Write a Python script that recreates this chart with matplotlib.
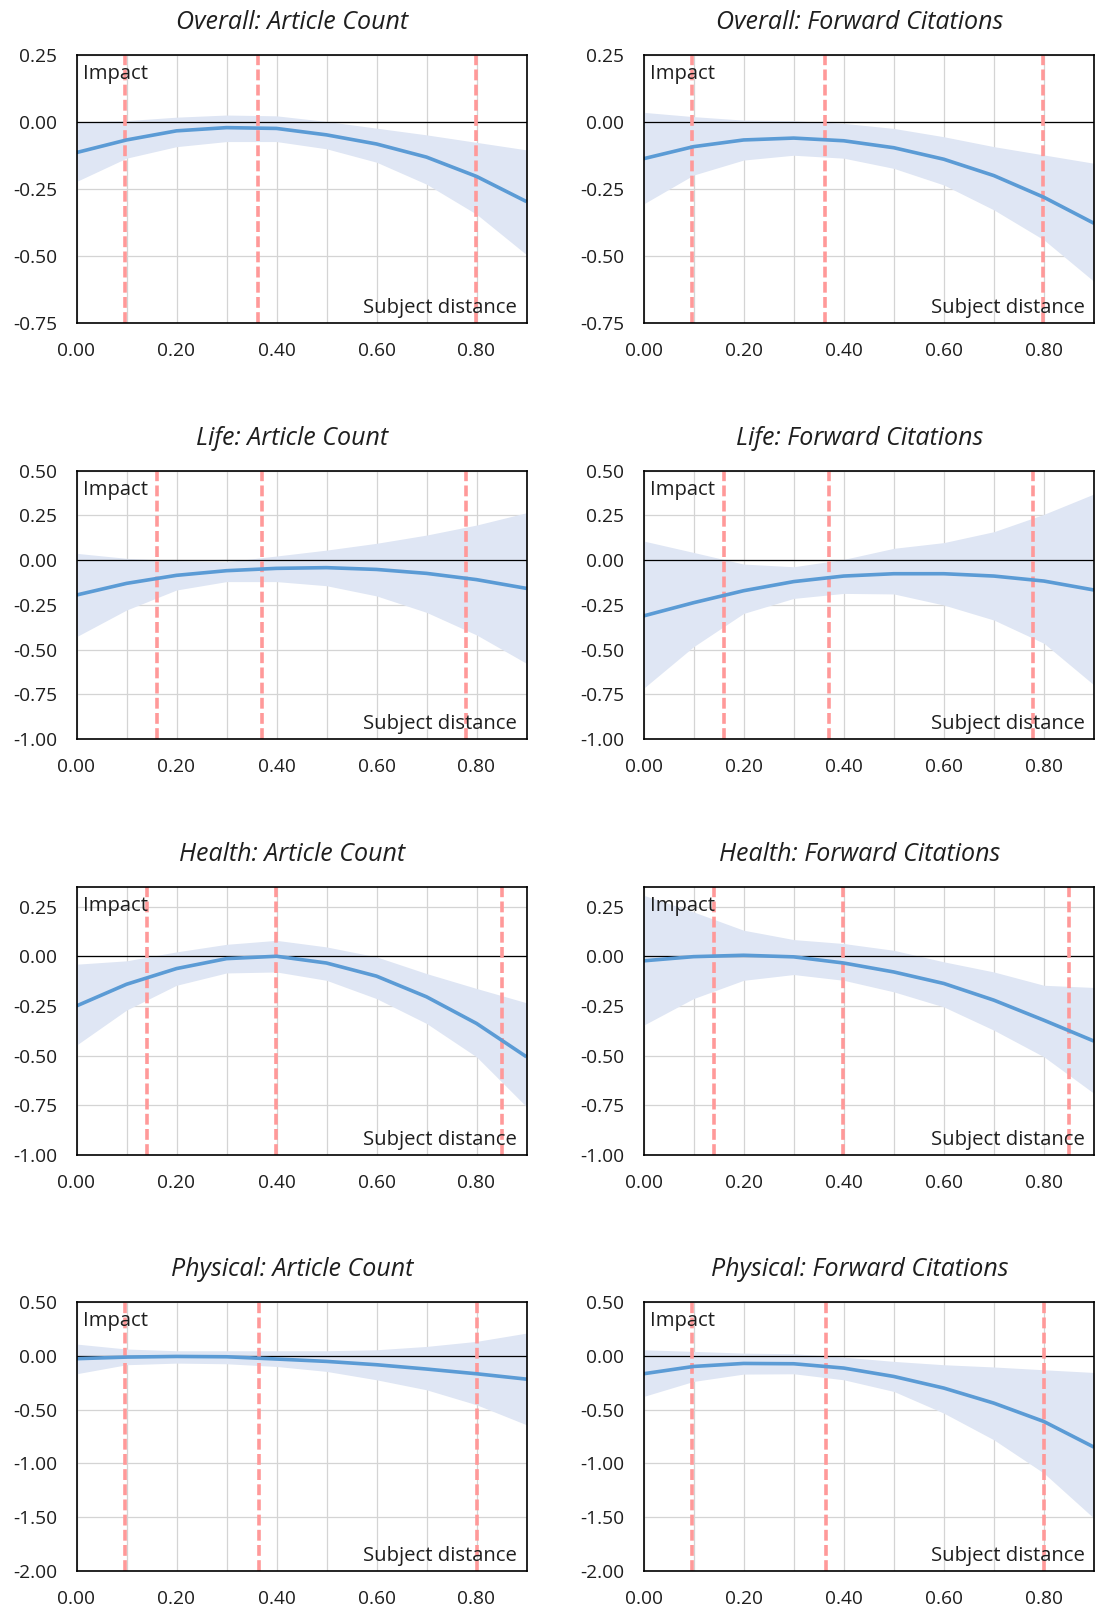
import numpy as np
import matplotlib.pyplot as plt
from matplotlib.ticker import MultipleLocator, FormatStrFormatter

plt.rcParams['font.family'] = ['Open Sans', 'DejaVu Sans']
plt.rcParams['axes.unicode_minus'] = False

TEXT = '#1e1e1e'
LINE = '#5b9bd5'
BAND = '#dfe6f4'
CUT = '#ff9999'
GRID = '#d4d4d4'

# subject distance grid the curves were read at
DIST = [0.0, 0.1, 0.2, 0.3, 0.4, 0.5, 0.6, 0.7, 0.8, 0.9]

# Overall: Article Count
overall_ac_fit = [-0.114, -0.067, -0.033, -0.021, -0.024, -0.048, -0.082, -0.131, -0.203, -0.297]
overall_ac_hi = [0.000, 0.005, 0.018, 0.026, 0.023, 0.002, -0.023, -0.048, -0.076, -0.104]
overall_ac_lo = [-0.222, -0.135, -0.092, -0.073, -0.073, -0.100, -0.150, -0.232, -0.344, -0.495]
# Overall: Forward Citations
overall_fc_fit = [-0.137, -0.092, -0.067, -0.060, -0.070, -0.096, -0.139, -0.200, -0.281, -0.378]
overall_fc_hi = [0.036, 0.020, 0.007, 0.005, -0.005, -0.024, -0.055, -0.092, -0.123, -0.154]
overall_fc_lo = [-0.306, -0.198, -0.142, -0.124, -0.135, -0.173, -0.235, -0.328, -0.440, -0.595]
# Life: Article Count
life_ac_fit = [-0.195, -0.130, -0.085, -0.059, -0.046, -0.042, -0.052, -0.074, -0.109, -0.158]
life_ac_hi = [0.038, 0.010, -0.003, -0.009, 0.023, 0.056, 0.094, 0.140, 0.196, 0.265]
life_ac_lo = [-0.428, -0.279, -0.167, -0.120, -0.120, -0.143, -0.200, -0.292, -0.418, -0.577]
# Life: Forward Citations
life_fc_fit = [-0.312, -0.238, -0.171, -0.120, -0.089, -0.076, -0.076, -0.089, -0.117, -0.167]
life_fc_hi = [0.107, 0.043, -0.022, -0.037, 0.004, 0.066, 0.098, 0.159, 0.256, 0.370]
life_fc_lo = [-0.717, -0.484, -0.298, -0.214, -0.186, -0.189, -0.251, -0.335, -0.465, -0.698]
# Health: Article Count
health_ac_fit = [-0.250, -0.141, -0.062, -0.012, 0.000, -0.034, -0.100, -0.204, -0.338, -0.506]
health_ac_hi = [-0.040, -0.023, 0.022, 0.060, 0.080, 0.047, -0.003, -0.087, -0.162, -0.234]
health_ac_lo = [-0.447, -0.271, -0.146, -0.084, -0.079, -0.121, -0.213, -0.338, -0.506, -0.757]
# Health: Forward Citations
health_fc_fit = [-0.023, -0.002, 0.005, -0.003, -0.034, -0.079, -0.137, -0.221, -0.322, -0.427]
health_fc_hi = [0.307, 0.223, 0.131, 0.084, 0.064, 0.030, -0.028, -0.079, -0.146, -0.157]
health_fc_lo = [-0.347, -0.213, -0.121, -0.092, -0.121, -0.179, -0.255, -0.372, -0.506, -0.690]
# Physical: Article Count
physical_ac_fit = [-0.027, -0.012, -0.006, -0.009, -0.030, -0.052, -0.083, -0.123, -0.167, -0.217]
physical_ac_hi = [0.109, 0.063, 0.047, 0.047, 0.047, 0.047, 0.056, 0.087, 0.134, 0.211]
physical_ac_lo = [-0.167, -0.083, -0.068, -0.074, -0.099, -0.145, -0.223, -0.316, -0.455, -0.641]
# Physical: Forward Citations
physical_fc_fit = [-0.167, -0.099, -0.071, -0.074, -0.114, -0.192, -0.300, -0.440, -0.611, -0.849]
physical_fc_hi = [0.056, 0.041, 0.025, 0.019, -0.012, -0.052, -0.083, -0.104, -0.130, -0.155]
physical_fc_lo = [-0.378, -0.238, -0.170, -0.167, -0.223, -0.331, -0.533, -0.781, -1.091, -1.510]

# cut-off distances (dashed lines) per field
overall_cuts = [0.096, 0.363, 0.799]
life_cuts = [0.161, 0.370, 0.778]
health_cuts = [0.140, 0.398, 0.850]
physical_cuts = [0.097, 0.364, 0.800]

titles = [
    "Overall: Article Count", "Overall: Forward Citations",
    "Life: Article Count", "Life: Forward Citations",
    "Health: Article Count", "Health: Forward Citations",
    "Physical: Article Count", "Physical: Forward Citations",
]
fits = [overall_ac_fit, overall_fc_fit, life_ac_fit, life_fc_fit,
        health_ac_fit, health_fc_fit, physical_ac_fit, physical_fc_fit]
his = [overall_ac_hi, overall_fc_hi, life_ac_hi, life_fc_hi,
       health_ac_hi, health_fc_hi, physical_ac_hi, physical_fc_hi]
los = [overall_ac_lo, overall_fc_lo, life_ac_lo, life_fc_lo,
       health_ac_lo, health_fc_lo, physical_ac_lo, physical_fc_lo]
cuts = [overall_cuts, overall_cuts, life_cuts, life_cuts,
        health_cuts, health_cuts, physical_cuts, physical_cuts]
ylims = [(-0.75, 0.25), (-0.75, 0.25), (-1.0, 0.5), (-1.0, 0.5),
         (-1.0, 0.35), (-1.0, 0.35), (-2.0, 0.5), (-2.0, 0.5)]
ysteps = [0.25, 0.25, 0.25, 0.25, 0.25, 0.25, 0.5, 0.5]

W, H = 1097, 1609
fig = plt.figure(figsize=(W / 100, H / 100), dpi=100)

col_px = [(76.5, 450.0), (643.5, 450.5)]
row_px = [(55, 323), (470.7, 739), (886.7, 1155), (1302, 1571)]

for i in range(8):
    r, c = divmod(i, 2)
    left, width = col_px[c]
    top, bottom = row_px[r]
    ax = fig.add_axes([left / W, 1 - bottom / H, width / W, (bottom - top) / H])

    ax.fill_between(DIST, los[i], his[i], color=BAND, lw=0, zorder=2)
    for xc in cuts[i]:
        ax.axvline(xc, color=CUT, lw=2.6, dashes=(3, 1.2), zorder=3)
    ax.plot(DIST, fits[i], color=LINE, lw=2.6, zorder=4,
            solid_joinstyle='round', solid_capstyle='butt')
    ax.axhline(0, color='black', lw=0.9, zorder=2.5)

    ax.set_xlim(0, 0.9)
    ax.set_ylim(*ylims[i])
    ax.xaxis.set_major_locator(MultipleLocator(0.2))
    ax.xaxis.set_minor_locator(MultipleLocator(0.1))
    ax.yaxis.set_major_locator(MultipleLocator(ysteps[i]))
    ax.xaxis.set_major_formatter(FormatStrFormatter('%.2f'))
    ax.yaxis.set_major_formatter(FormatStrFormatter('%.2f'))
    ax.grid(True, which='both', axis='x', color=GRID, lw=0.9, zorder=1)
    ax.grid(True, which='major', axis='y', color=GRID, lw=0.9, zorder=1)
    ax.set_axisbelow(True)
    ax.tick_params(which='both', length=0, labelsize=13.8, colors=TEXT)
    ax.tick_params(axis='y', pad=14)
    ax.tick_params(axis='x', pad=13.5)
    for sp in ax.spines.values():
        sp.set_color('black')
        sp.set_linewidth(1.2)
        sp.set_zorder(6)

    ax.annotate(titles[i], xy=(0.5, 1), xycoords='axes fraction',
                xytext=(-6.8, 18.5), textcoords='offset points',
                ha='center', va='baseline', fontsize=18,
                fontstyle='italic', color=TEXT)
    ax.annotate("Impact", xy=(0, 1), xycoords='axes fraction',
                xytext=(5.0, -17.3), textcoords='offset points',
                ha='left', va='baseline', fontsize=14.6, color=TEXT, zorder=7)
    ax.annotate("Subject distance", xy=(1, 0), xycoords='axes fraction',
                xytext=(-6.8, 7.2), textcoords='offset points',
                ha='right', va='baseline', fontsize=14.6, color=TEXT, zorder=7)

fig.savefig("out.png", dpi=100, facecolor='white')
